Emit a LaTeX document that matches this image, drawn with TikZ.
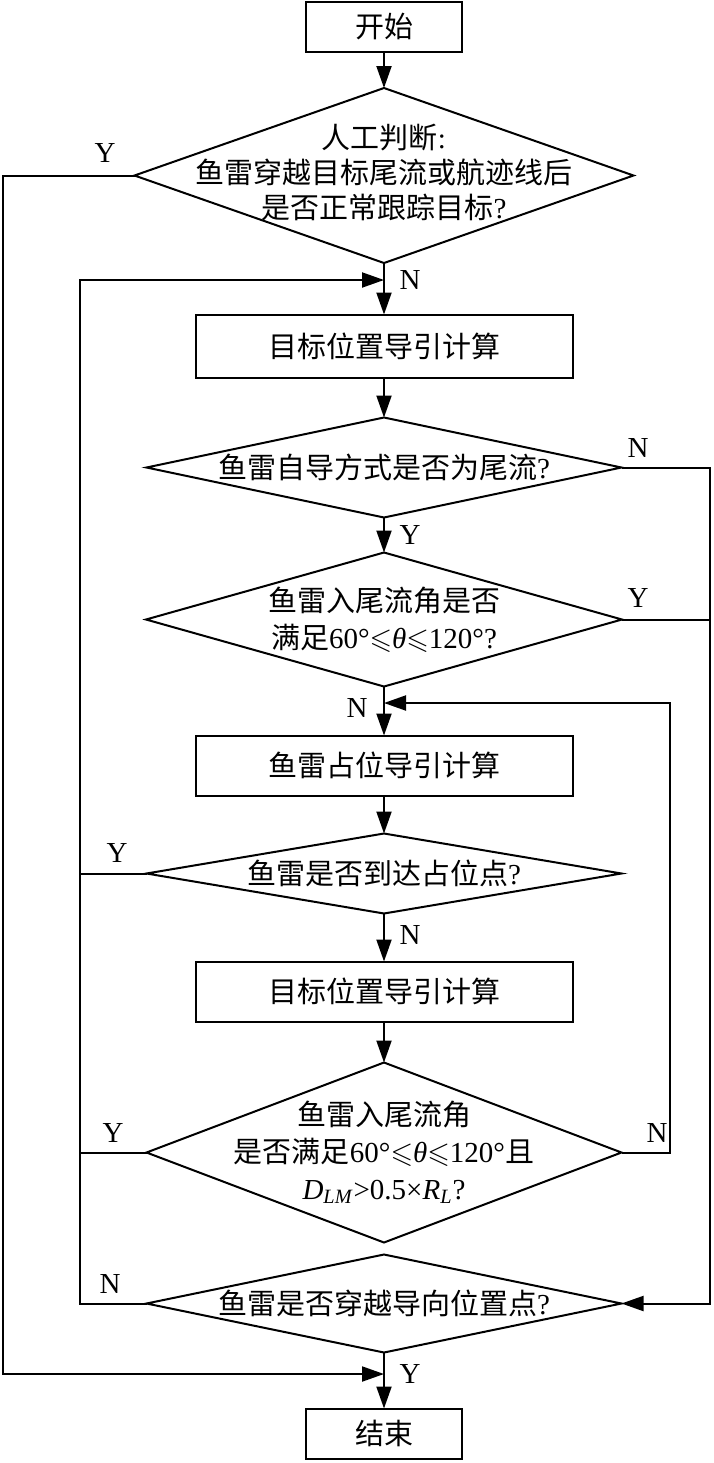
\documentclass[tikz,border=0pt]{standalone}
\usepackage{fontspec}
\usepackage{amssymb}
\setmainfont{Liberation Serif}
\newfontfamily\cjk{Noto Sans CJK SC}
\usetikzlibrary{positioning,shapes.geometric,arrows.meta}

\begin{document}
\begin{tikzpicture}[x=0.5pt, y=-0.5pt, node distance=20pt,
    every node/.style={font=\fontsize{14.5}{18.5}\selectfont},
    term/.style={draw, line width=1pt, rectangle, minimum width=78pt, minimum height=25pt, inner sep=0pt, outer sep=0pt},
    proc/.style={draw, line width=1pt, rectangle, minimum width=188.5pt, minimum height=30pt, inner sep=0pt, outer sep=0pt},
    decide/.style={draw, line width=1pt, diamond, inner sep=0pt, outer sep=0pt, minimum width=237.5pt},
    txt/.style={align=center, inner sep=0pt},
    lab/.style={inner sep=0pt},
    line/.style={line width=1pt},
    arr/.style={line width=1pt, -{Triangle[length=11pt,width=7.5pt]}}]
    \useasboundingbox (0,0) rectangle (713,1463);

    \node (start) [term] at (384,27) {\cjk 开始};
    \node (judge) [decide, minimum width=249.5pt, minimum height=87.5pt, below=18pt of start] {};
    \node (judgetxt) [txt, font=\fontsize{14.5}{17.5}\selectfont] at ([yshift=1.5pt]judge.center) {{\cjk 人工判断}:\\{\cjk 鱼雷穿越目标尾流或航迹线后}\\{\cjk 是否正常跟踪目标}?};
    \node (tgt1) [proc, minimum height=31.5pt, below=25.75pt of judge] {\cjk 目标位置导引计算};
    \node (wake) [decide, minimum height=50pt, below=20pt of tgt1] {};
    \node (waketxt) [txt] at (wake) {{\cjk 鱼雷自导方式是否为尾流}?};
    \node (angle) [decide, minimum width=238pt, minimum height=67pt, below=17.5pt of wake] {};
    \node (angletxt) [txt] at (angle) {{\cjk 鱼雷入尾流角是否}\\{\cjk 满足}60°$\leqslant$\textit{θ}$\leqslant$120°?};
    \node (occ) [proc, below=24.5pt of angle] {\cjk 鱼雷占位导引计算};
    \node (reach) [decide, minimum height=40pt, below=19pt of occ] {};
    \node (reachtxt) [txt] at (reach) {{\cjk 鱼雷是否到达占位点}?};
    \node (tgt2) [proc, below=24pt of reach] {\cjk 目标位置导引计算};
    \node (cond) [decide, minimum height=90pt, below=20.5pt of tgt2] {};
    \node (condtxt) [txt] at (cond) {{\cjk 鱼雷入尾流角}\\{\cjk 是否满足}60°$\leqslant$\textit{θ}$\leqslant$120°{\cjk 且}\\\textit{D}\textsubscript{\textit{LM}}>0.5×\textit{R}\textsubscript{\textit{L}}?};
    \node (pass) [decide, minimum height=49pt, below=6pt of cond] {};
    \node (passtxt) [txt] at (pass) {{\cjk 鱼雷是否穿越导向位置点}?};
    \node (end) [term, below=28pt of pass] {\cjk 结束};

    % joints and side rails
    \coordinate (loopA) at (384,280);
    \coordinate (loopB) at (384,703);
    \coordinate (exitY) at (384,1374);
    \coordinate (farL) at (3,0);
    \coordinate (midL) at (80,0);
    \coordinate (midR) at (670,0);
    \coordinate (farR) at (710,0);

    % main flow
    \draw[arr] (start.south) -- (judge.north);
    \draw[arr] (judge.south) -- (tgt1.north);
    \draw[arr] (tgt1.south) -- (wake.north);
    \draw[arr] (wake.south) -- (angle.north);
    \draw[arr] (angle.south) -- (occ.north);
    \draw[arr] (occ.south) -- (reach.north);
    \draw[arr] (reach.south) -- (tgt2.north);
    \draw[arr] (tgt2.south) -- (cond.north);
    \draw[arr] (pass.south) -- (end.north);

    % branches
    \draw[arr] (judge.west) -- (judge.west -| farL) -- (farL |- exitY) -- (exitY);
    \draw[arr] (pass.west) -- (pass.west -| midL) -- (midL |- loopA) -- (loopA);
    \draw[line] (reach.west) -- (reach.west -| midL);
    \draw[line] (cond.west) -- (cond.west -| midL);
    \draw[arr] (wake.east) -- (wake.east -| farR) -- (farR |- pass.east) -- (pass.east);
    \draw[line] (angle.east) -- (angle.east -| farR);
    \draw[arr] (cond.east) -- (cond.east -| midR) -- (midR |- loopB) -- (loopB);

    % Y/N labels
    \node (judgeY) [lab] at (105,153) {Y};
    \node (judgeN) [lab] at (410,280) {N};
    \node (wakeN) [lab] at (638,448) {N};
    \node (wakeY) [lab] at (410,535) {Y};
    \node (angleY) [lab] at (638,598) {Y};
    \node (angleN) [lab] at (357,708) {N};
    \node (reachY) [lab] at (117,853) {Y};
    \node (reachN) [lab] at (410,935) {N};
    \node (condY) [lab] at (113,1133) {Y};
    \node (condN) [lab] at (657,1133) {N};
    \node (passN) [lab] at (110,1284) {N};
    \node (passY) [lab] at (410,1374) {Y};
\end{tikzpicture}
\end{document}
